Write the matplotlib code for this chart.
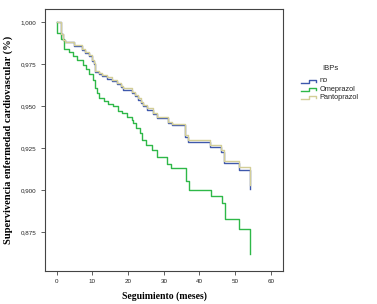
import matplotlib
matplotlib.use("Agg")
import matplotlib.pyplot as plt
from matplotlib.lines import Line2D
from matplotlib.ticker import FuncFormatter

# Kaplan-Meier steps (months, survival)
t_no = [0, 1.1, 1.7, 2.3, 4.9, 7.0, 7.9, 9.1, 9.8, 10.4, 10.7, 11.7, 12.8, 14.0,
        15.5, 17.0, 18.0, 18.7, 21.0, 21.9, 22.9, 23.5, 24.3, 25.2, 27.1, 28.0,
        31.3, 32.2, 35.9, 36.9, 43.0, 46.0, 47.0, 51.0, 54.2, 54.2]
s_no = [1.0, 0.9927, 0.9891, 0.9880, 0.9859, 0.9835, 0.9818, 0.9799, 0.9769,
        0.9749, 0.9704, 0.9691, 0.9678, 0.9663, 0.9648, 0.9628, 0.9612, 0.9597,
        0.9577, 0.9557, 0.9538, 0.9518, 0.9498, 0.9478, 0.9452, 0.9428, 0.9399,
        0.9384, 0.9317, 0.9287, 0.9258, 0.9228, 0.9162, 0.9119, 0.9004, 0.9004]

t_ome = [0, 0, 1.1, 2.0, 3.5, 4.6, 5.8, 7.3, 8.2, 9.1, 10.1, 10.7, 11.2, 11.9,
         13.2, 14.5, 15.7, 17.3, 18.2, 19.8, 21.0, 21.5, 22.2, 23.2, 23.8, 25.0,
         26.8, 28.0, 31.0, 31.9, 36.1, 37.0, 43.1, 46.2, 47.2, 51.2, 54.3, 54.3]
s_ome = [1.0, 0.9933, 0.9899, 0.9837, 0.9823, 0.9798, 0.9774, 0.9744, 0.9718,
         0.9690, 0.9655, 0.9605, 0.9575, 0.9550, 0.9530, 0.9512, 0.9500, 0.9472,
         0.9456, 0.9437, 0.9417, 0.9397, 0.9367, 0.9340, 0.9298, 0.9268, 0.9238,
         0.9198, 0.9153, 0.9129, 0.9055, 0.9000, 0.8964, 0.8920, 0.8827, 0.8766,
         0.8617, 0.8617]

t_panto = [0, 1.1, 1.7, 2.3, 4.9, 7.0, 7.9, 9.1, 9.8, 10.4, 10.7, 11.7, 12.8,
           14.0, 15.5, 17.0, 18.0, 18.7, 21.0, 21.9, 22.9, 23.5, 24.3, 25.2,
           27.1, 28.0, 31.3, 32.2, 35.9, 36.9, 43.0, 46.0, 47.0, 51.0, 54.2, 54.2]
s_panto = [1.0, 0.9927, 0.9893, 0.9883, 0.9863, 0.9839, 0.9823, 0.9804, 0.9774,
           0.9754, 0.9710, 0.9698, 0.9685, 0.9670, 0.9655, 0.9635, 0.9620, 0.9605,
           0.9585, 0.9565, 0.9546, 0.9526, 0.9506, 0.9486, 0.9460, 0.9436, 0.9407,
           0.9393, 0.9327, 0.9298, 0.9268, 0.9238, 0.9174, 0.9135, 0.9030, 0.9030]

groups = ["no", "Omeprazol", "Pantoprazol"]
colors = ["#3e58ac", "#2eb848", "#d3ce97"]

x_ticks = [0, 10, 20, 30, 40, 50, 60]
y_ticks = [0.875, 0.900, 0.925, 0.950, 0.975, 1.000]

fig = plt.figure(figsize=(3.77, 3.04), dpi=100)
ax = fig.add_axes([45 / 377, 33 / 304, 238.3 / 377, 262 / 304])

ax.step(t_no, s_no, where="post", color=colors[0], lw=1.0)
ax.step(t_ome, s_ome, where="post", color=colors[1], lw=1.0)
ax.step(t_panto, s_panto, where="post", color=colors[2], lw=1.0)

ax.set_xlim(-3.3, 63.5)
ax.set_ylim(0.8518, 1.0077)
ax.set_xticks(x_ticks)
ax.set_yticks(y_ticks)
ax.yaxis.set_major_formatter(FuncFormatter(lambda v, p: f"{v:.3f}".replace(".", ",")))
ax.tick_params(length=3, width=0.6, color="#444444", labelsize=4.5,
               labelcolor="#222222", pad=3)
for lab in ax.get_xticklabels() + ax.get_yticklabels():
    lab.set_family("Liberation Sans")
for sp in ax.spines.values():
    sp.set_color("#444444")
    sp.set_linewidth(0.8)

ax.set_xlabel("Seguimiento (meses)", labelpad=5, family="Liberation Serif",
              weight="bold", size=7)
ax.set_ylabel("Supervivencia enfermedad cardiovascular (%)", labelpad=6,
              family="Liberation Serif", weight="bold", size=7.6)

# legend drawn by hand to get the step-shaped keys
fig.text(330 / 377, 1 - 68 / 304, "IBPs", ha="center", va="center",
         family="Liberation Sans", size=5.5, color="#222222")
for i, (name, c) in enumerate(zip(groups, colors)):
    yc = 1 - (81 + 8.2 * i) / 304
    hx = [301 / 377, 308.5 / 377, 308.5 / 377, 316 / 377, 316 / 377]
    hy = [yc - 1.5 / 304, yc - 1.5 / 304, yc + 1.5 / 304, yc + 1.5 / 304, yc - 0.5 / 304]
    fig.add_artist(Line2D(hx, hy, color=c, lw=1.0, transform=fig.transFigure))
    fig.text(319.5 / 377, yc, name, ha="left", va="center",
             family="Liberation Sans", size=5.3, color="#222222")

fig.savefig("out.png", dpi=100)
